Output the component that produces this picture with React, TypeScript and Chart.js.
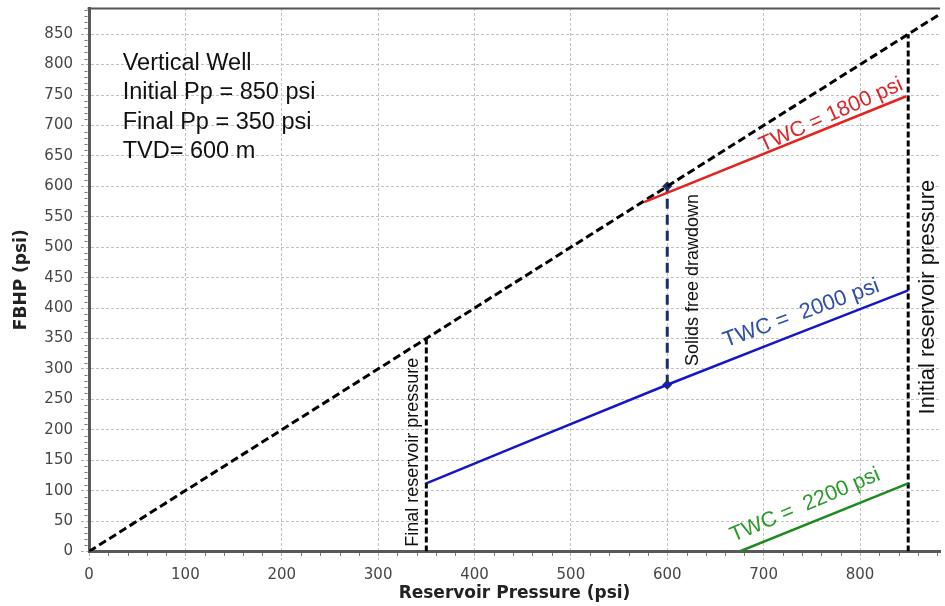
import React, { useEffect, useRef } from "react";
import { Chart, registerables } from "chart.js";

Chart.register(...registerables);

// ---- axis ticks ----
const xTickValues = [0, 100, 200, 300, 400, 500, 600, 700, 800];
const yTickValues = [0, 50, 100, 150, 200, 250, 300, 350, 400, 450, 500, 550, 600, 650, 700, 750, 800, 850];
const xMin = 0;
const xMax = 883;
const yMin = 0;
const yMax = 893;

// ---- series ----
const identityX = [0, 883];
const identityY = [0, 883];
const twc1800X = [576, 848];
const twc1800Y = [574, 748];
const twc2000X = [350, 600, 850];
const twc2000Y = [112, 274, 429];
const twc2200X = [675, 850];
const twc2200Y = [0, 112];
const finalPpX = [350, 350];
const finalPpY = [0, 350];
const initialPpX = [850, 850];
const initialPpY = [0, 850];
const drawdownX = [600, 600];
const drawdownY = [274, 600];

const infoLines = ["Vertical Well", "Initial Pp = 850 psi", "Final Pp = 350 psi", "TVD= 600 m"];

const pts = (xs: number[], ys: number[]) => xs.map((v, i) => ({ x: v, y: ys[i] }));

type Ann = {
  text: string;
  x: number;
  y: number;
  rot: number;
  color: string;
  font: string;
  align: CanvasTextAlign;
  baseline: CanvasTextBaseline;
};

const ARIAL = '"Liberation Sans", Arial, sans-serif';

const annotations: Ann[] = [
  ...infoLines.map((t, i) => ({
    text: t,
    x: 35,
    y: 791 - i * 48,
    rot: 0,
    color: "#111",
    font: `23.5px ${ARIAL}`,
    align: "left" as CanvasTextAlign,
    baseline: "alphabetic" as CanvasTextBaseline,
  })),
  { text: "TWC = 1800 psi", x: 770, y: 717, rot: -24, color: "#d8262a", font: `21.5px ${ARIAL}`, align: "center", baseline: "middle" },
  { text: "TWC =  2000 psi", x: 739, y: 391, rot: -20, color: "#2e4fa8", font: `22px ${ARIAL}`, align: "center", baseline: "middle" },
  { text: "TWC =  2200 psi", x: 743, y: 76, rot: -23, color: "#2a9a2a", font: `21.5px ${ARIAL}`, align: "center", baseline: "middle" },
  { text: "Solids free drawdown", x: 626.8, y: 446, rot: -90, color: "#111", font: `18px ${ARIAL}`, align: "center", baseline: "middle" },
  { text: "Final reservoir pressure", x: 336.5, y: 163, rot: -90, color: "#111", font: `18px ${ARIAL}`, align: "center", baseline: "middle" },
  { text: "Initial reservoir pressure", x: 871, y: 418, rot: -90, color: "#111", font: `22px ${ARIAL}`, align: "center", baseline: "middle" },
];

const annotationPlugin = {
  id: "annotations",
  afterDatasetsDraw(chart: any) {
    const { ctx, scales } = chart;
    const xs = scales.x;
    const ys = scales.y;
    for (const a of annotations) {
      const px = xs.getPixelForValue(a.x);
      const py = ys.getPixelForValue(a.y);
      ctx.save();
      ctx.translate(px, py);
      ctx.rotate((a.rot * Math.PI) / 180);
      ctx.font = a.font;
      ctx.fillStyle = a.color;
      ctx.textAlign = a.align;
      ctx.textBaseline = a.baseline;
      ctx.fillText(a.text, 0, 0);
      ctx.restore();
    }
  },
};

const framePlugin = {
  id: "frame",
  afterDraw(chart: any) {
    const { ctx, chartArea, scales } = chart;
    const xs = scales.x;
    const ys = scales.y;
    ctx.save();
    // top border
    ctx.strokeStyle = "#555";
    ctx.lineWidth = 2;
    ctx.beginPath();
    ctx.moveTo(chartArea.left - 1.5, chartArea.top + 0.5);
    ctx.lineTo(chartArea.right, chartArea.top + 0.5);
    ctx.stroke();
    // minor ticks
    ctx.strokeStyle = "#777";
    ctx.lineWidth = 1;
    ctx.beginPath();
    for (let v = 20; v <= xMax; v += 20) {
      if (v % 100 === 0) continue;
      const px = Math.round(xs.getPixelForValue(v)) + 0.5;
      ctx.moveTo(px, chartArea.bottom + 1.5);
      ctx.lineTo(px, chartArea.bottom + 4.5);
    }
    for (let v = 10; v <= yMax; v += 10) {
      if (v % 50 === 0) continue;
      const py = Math.round(ys.getPixelForValue(v)) + 0.5;
      ctx.moveTo(chartArea.left - 1.5, py);
      ctx.lineTo(chartArea.left - 4.5, py);
    }
    ctx.stroke();
    ctx.restore();
  },
};

const tickFont = { family: '"DejaVu Sans", Verdana, sans-serif', size: 15 };
const titleFont = { family: '"DejaVu Sans", Verdana, sans-serif', size: 17, weight: "bold" };

export default function App() {
  const ref = useRef<HTMLCanvasElement | null>(null);

  useEffect(() => {
    document.body.style.margin = "0";
    const canvas = ref.current;
    if (!canvas) return;
    const chart = new Chart(canvas, {
      type: "scatter",
      data: {
        datasets: [
          {
            label: "TWC = 1800 psi",
            data: pts(twc1800X, twc1800Y),
            showLine: true,
            borderColor: "#e2231f",
            borderWidth: 2.5,
            pointRadius: 0,
          },
          {
            label: "TWC = 2000 psi",
            data: pts(twc2000X, twc2000Y),
            showLine: true,
            borderColor: "#1616c8",
            borderWidth: 2.5,
            pointRadius: 0,
            tension: 0.3,
          },
          {
            label: "TWC = 2200 psi",
            data: pts(twc2200X, twc2200Y),
            showLine: true,
            borderColor: "#1f8a1f",
            borderWidth: 2.5,
            pointRadius: 0,
          },
          {
            label: "FBHP = Pr",
            data: pts(identityX, identityY),
            showLine: true,
            borderColor: "#000",
            borderWidth: 3,
            borderDash: [8, 4],
            pointRadius: 0,
          },
          {
            label: "Final reservoir pressure",
            data: pts(finalPpX, finalPpY),
            showLine: true,
            borderColor: "#000",
            borderWidth: 3,
            borderDash: [6, 3],
            pointRadius: 0,
          },
          {
            label: "Initial reservoir pressure",
            data: pts(initialPpX, initialPpY),
            showLine: true,
            borderColor: "#000",
            borderWidth: 3,
            borderDash: [6, 3],
            pointRadius: 0,
          },
          {
            label: "Solids free drawdown",
            data: pts(drawdownX, drawdownY),
            showLine: true,
            borderColor: "#1c2f6b",
            backgroundColor: "#1c2f6b",
            borderWidth: 3,
            borderDash: [10, 6],
            pointStyle: "rectRot",
            pointRadius: 5,
            pointBorderWidth: 0,
          },
        ],
      },
      options: {
        animation: false,
        responsive: false,
        devicePixelRatio: 1,
        layout: { padding: { top: 8, right: 0, bottom: 0, left: 0 } },
        plugins: {
          legend: { display: false },
          tooltip: { enabled: false },
        },
        scales: {
          x: {
            type: "linear",
            min: xMin,
            max: xMax,
            afterBuildTicks: (scale: any) => {
              scale.ticks = xTickValues.map((v) => ({ value: v }));
            },
            afterFit: (scale: any) => {
              scale.height = 54.5;
              scale.paddingLeft = 0;
              scale.paddingRight = 0;
            },
            ticks: {
              color: "#4a4545",
              font: tickFont,
              padding: 7,
              maxRotation: 0,
              autoSkip: false,
            },
            grid: {
              color: "#c2c2c2",
              lineWidth: 1,
              tickLength: 8,
              tickColor: "#b0b0b0",
              tickBorderDash: [3, 2],
            },
            border: { display: true, color: "#5a5a5a", width: 3, dash: [3, 2] },
            title: {
              display: true,
              text: "Reservoir Pressure (psi)",
              color: "#222",
              font: titleFont,
              padding: { top: 0, bottom: 2 },
            },
          },
          y: {
            type: "linear",
            min: yMin,
            max: yMax,
            afterBuildTicks: (scale: any) => {
              scale.ticks = yTickValues.map((v) => ({ value: v }));
            },
            afterFit: (scale: any) => {
              scale.width = 89;
              scale.paddingTop = 0;
              scale.paddingBottom = 0;
            },
            ticks: {
              color: "#4a4545",
              font: tickFont,
              padding: 8,
              autoSkip: false,
            },
            grid: {
              color: "#c2c2c2",
              lineWidth: 1,
              tickLength: 8,
              tickColor: "#b0b0b0",
              tickBorderDash: [3, 2],
            },
            border: { display: true, color: "#5a5a5a", width: 3, dash: [3, 2] },
            title: {
              display: true,
              text: "FBHP (psi)",
              color: "#222",
              font: titleFont,
              padding: { top: 11, bottom: 0 },
            },
          },
        },
      },
      plugins: [annotationPlugin, framePlugin],
    } as any);
    return () => chart.destroy();
  }, []);

  return <canvas ref={ref} width={945} height={606} style={{ display: "block" }} />;
}
